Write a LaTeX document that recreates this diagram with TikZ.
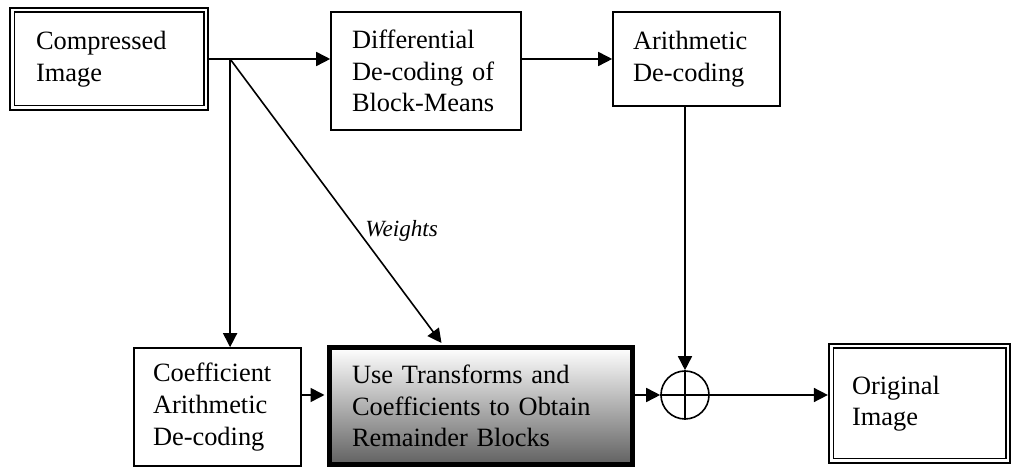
\documentclass[tikz,border=0pt]{standalone}
\usepackage{fontspec}
\setmainfont{Liberation Serif}
\usetikzlibrary{arrows.meta,calc,positioning}

\tikzset{
  blk/.style={draw, line width=0.8pt, inner sep=0pt, align=left, font=\fontsize{13.2}{15.8}\selectfont},
  dblk/.style={blk, line width=1.1pt},
  lnk/.style={line width=0.8pt, -{Triangle[length=7pt,width=7pt]}},
}

\begin{document}
\begin{tikzpicture}[x=0.5pt,y=-0.5pt]

  \def\gap{2.6pt};

  \useasboundingbox (0,0) rectangle (1013,469);

  %top row
  \node[dblk, minimum width=99pt, minimum height=51pt, text width=73pt] (cmp) at (109,59) {Compressed\\Image};
  \node[blk, minimum width=95pt, minimum height=59pt, text width=74pt] (diff) at (426,71) {Differential\\De-coding of\\Block-Means};
  \node[blk, minimum width=83.5pt, minimum height=47pt, text width=63.5pt] (arith) at (696.5,59) {Arithmetic\\De-coding};

  %bottom row
  \node[blk, minimum width=83.5pt, minimum height=59pt, text width=64.5pt] (coef) at (217.5,407) {Coefficient\\Arithmetic\\De-coding};
  \node[blk, line width=2.5pt, top color=white, bottom color=black!62, minimum width=151.5pt, minimum height=58.5pt, text width=129pt] (use) at (481,406) {Use Transforms and\\Coefficients to Obtain\\Remainder Blocks};
  \node[draw, circle, line width=0.8pt, inner sep=0pt, minimum size=24pt] (sum) at (685,395) {};
  \draw[line width=0.8pt] (sum.north) -- (sum.south) (sum.west) -- (sum.east);
  \node[dblk, minimum width=90.5pt, minimum height=59.5pt, text width=67.5pt] (orig) at (919.5,403.5) {Original\\Image\\[4pt]};

  %inner lines of the double boxes
  \foreach \name in {cmp,orig}{
    \draw[line width=0.6pt] ($(\name.north west)+(\gap,-\gap)$) rectangle ($(\name.south east)+(-\gap,\gap)$);
  }

  %connectors
  \coordinate (br) at ($(cmp.east)+(10.5pt,0)$);
  \draw[line width=0.8pt] (cmp.east) -- (br);
  \draw[lnk] (br) -- (br -| diff.west);
  \draw[lnk] (diff.east |- br) -- (arith.west |- br);
  \draw[lnk] (br) -- (br |- coef.north);
  \draw[lnk, shorten >=1.25pt] (br) -- node[pos=0.6, right, font=\fontsize{11.6}{14}\selectfont\itshape] (wts) {Weights} ($(use.north)+(-19pt,0)$);

  \draw[lnk, shorten >=1.25pt] (coef.east |- sum) -- (use.west |- sum);
  \draw[lnk] (use.east |- sum) -- (sum.west);
  \draw[lnk] (arith.south -| sum) -- (sum.north);
  \draw[lnk] (sum.east) -- (sum -| orig.west);

\end{tikzpicture}
\end{document}
